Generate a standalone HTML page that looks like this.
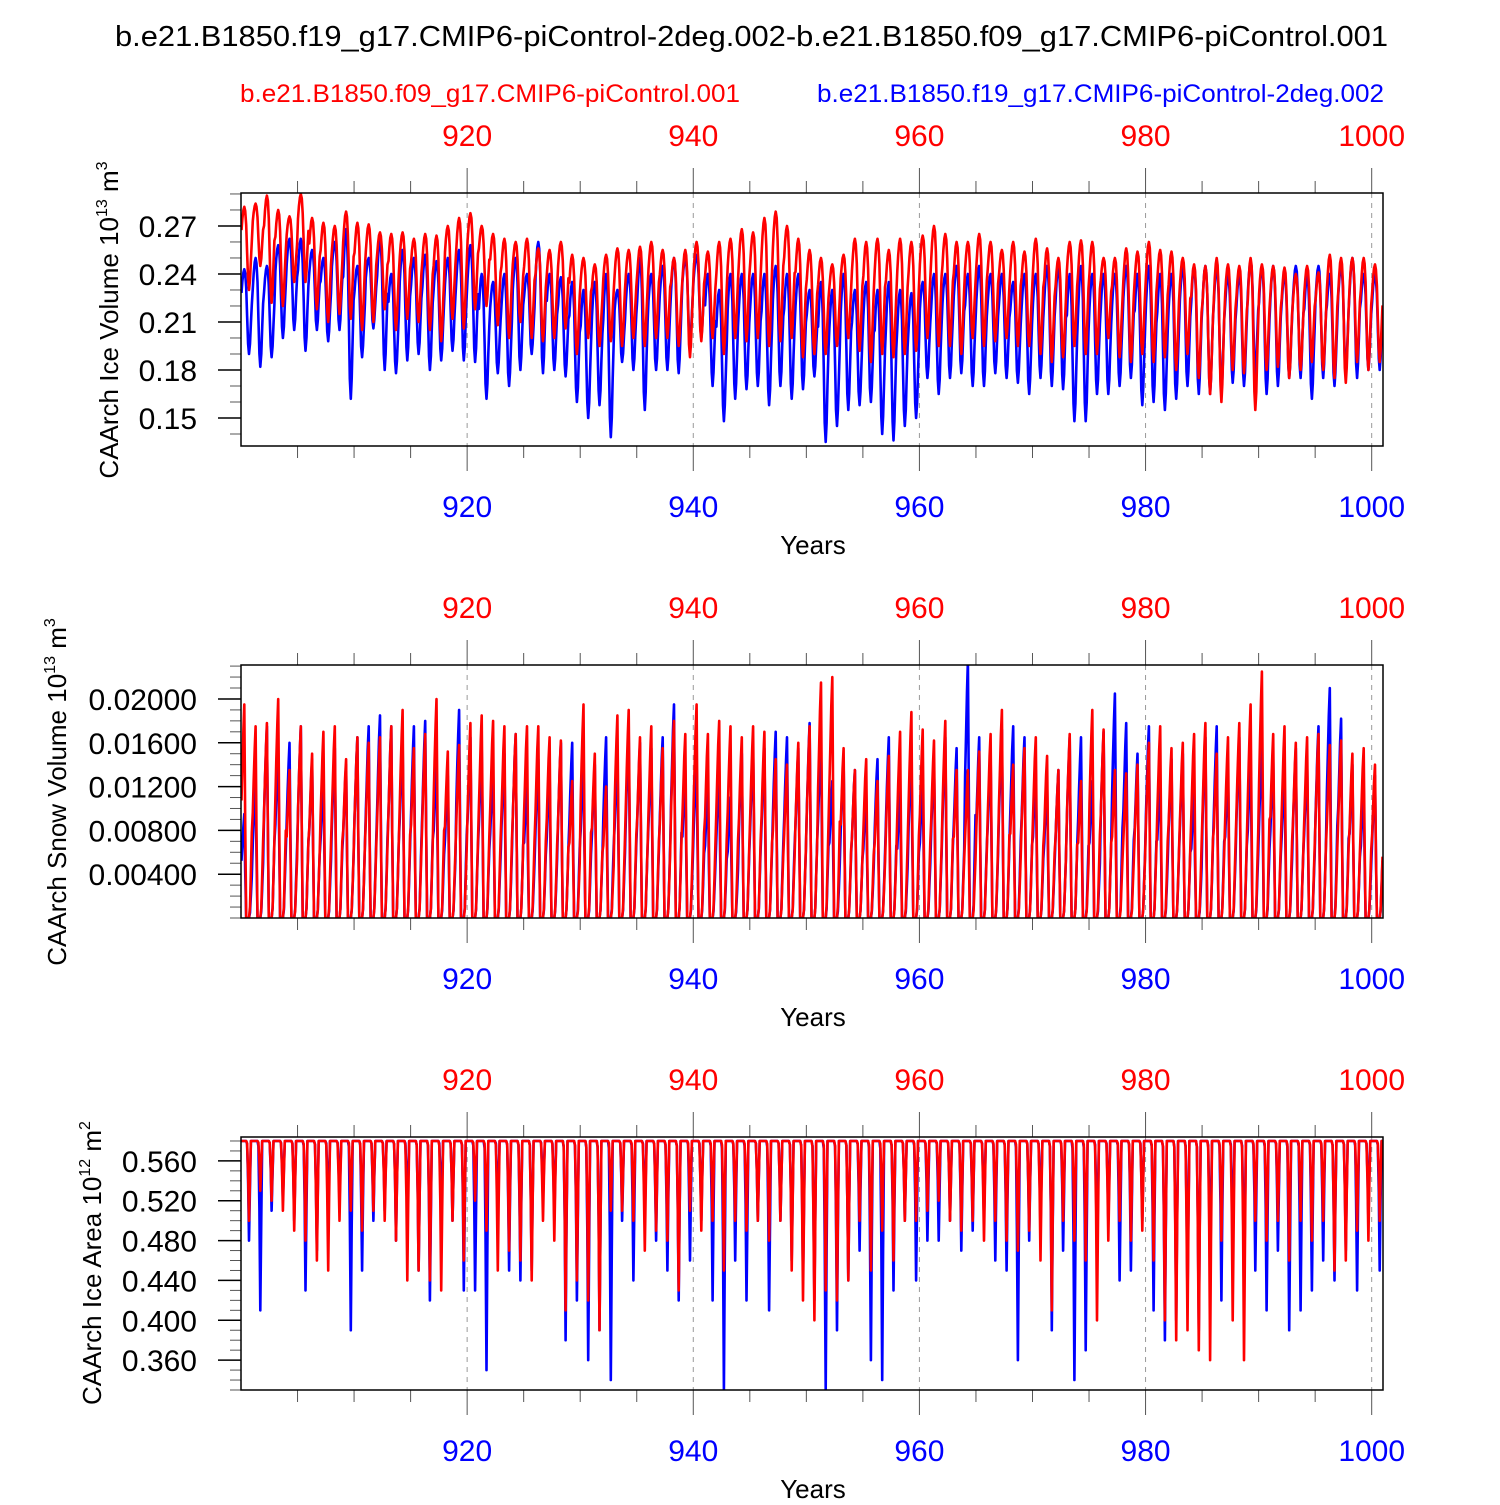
<!DOCTYPE html>
<html><head><meta charset="utf-8">
<style>
html,body{margin:0;padding:0;background:#fff;}
svg text{font-family:"Liberation Sans",Arial,sans-serif;}
</style></head>
<body>
<svg id="chart" width="1500" height="1500" viewBox="0 0 1500 1500" xmlns="http://www.w3.org/2000/svg">
<text x="115" y="46" font-size="29" textLength="1273" lengthAdjust="spacingAndGlyphs" fill="#000">b.e21.B1850.f19_g17.CMIP6-piControl-2deg.002-b.e21.B1850.f09_g17.CMIP6-piControl.001</text>
<text x="240" y="102" font-size="25" textLength="500" lengthAdjust="spacingAndGlyphs" fill="#f00">b.e21.B1850.f09_g17.CMIP6-piControl.001</text>
<text x="817" y="102" font-size="25" textLength="567" lengthAdjust="spacingAndGlyphs" fill="#00f">b.e21.B1850.f19_g17.CMIP6-piControl-2deg.002</text>
</svg>
<script>
// ---- data: yearly values (years 900..1000) ----
const years = Array.from({length:101},(_,i)=>900+i);
const xTicks = [920,940,960,980,1000];

const volRedMax = [0.282,0.284,0.289,0.28,0.276,0.29,0.275,0.272,0.27,0.279,0.272,0.271,0.266,0.265,0.266,0.262,0.265,0.264,0.27,0.275,0.278,0.27,0.265,0.262,0.26,0.262,0.256,0.255,0.26,0.252,0.25,0.246,0.252,0.256,0.255,0.257,0.26,0.255,0.25,0.255,0.26,0.254,0.26,0.262,0.268,0.266,0.275,0.279,0.27,0.262,0.255,0.25,0.246,0.252,0.262,0.26,0.262,0.255,0.262,0.26,0.264,0.27,0.265,0.26,0.26,0.265,0.26,0.255,0.26,0.254,0.262,0.256,0.25,0.26,0.261,0.26,0.25,0.25,0.256,0.254,0.26,0.255,0.254,0.25,0.246,0.245,0.25,0.246,0.245,0.25,0.246,0.245,0.244,0.24,0.245,0.241,0.252,0.25,0.25,0.25,0.246];
const volRedMin = [0.23,0.245,0.222,0.22,0.235,0.235,0.218,0.21,0.215,0.212,0.205,0.21,0.218,0.205,0.212,0.21,0.205,0.198,0.212,0.206,0.218,0.22,0.208,0.2,0.21,0.2,0.198,0.2,0.206,0.19,0.2,0.195,0.198,0.195,0.2,0.195,0.2,0.2,0.195,0.188,0.198,0.2,0.19,0.2,0.198,0.2,0.195,0.198,0.2,0.188,0.19,0.19,0.195,0.2,0.192,0.185,0.19,0.188,0.19,0.192,0.2,0.195,0.195,0.19,0.2,0.195,0.198,0.2,0.195,0.195,0.19,0.185,0.188,0.195,0.19,0.19,0.2,0.188,0.185,0.19,0.185,0.188,0.18,0.19,0.175,0.165,0.16,0.18,0.178,0.155,0.18,0.182,0.175,0.18,0.185,0.18,0.175,0.172,0.185,0.18,0.185];
const volBlueMax = [0.243,0.25,0.245,0.258,0.262,0.262,0.255,0.25,0.26,0.268,0.245,0.25,0.262,0.24,0.255,0.25,0.252,0.248,0.25,0.255,0.258,0.24,0.235,0.24,0.25,0.24,0.26,0.24,0.238,0.235,0.23,0.235,0.24,0.23,0.24,0.25,0.24,0.245,0.25,0.25,0.252,0.24,0.23,0.24,0.24,0.24,0.24,0.245,0.24,0.24,0.23,0.235,0.23,0.24,0.23,0.235,0.23,0.235,0.23,0.228,0.235,0.24,0.24,0.245,0.24,0.245,0.24,0.24,0.235,0.24,0.24,0.245,0.245,0.24,0.245,0.24,0.24,0.24,0.245,0.24,0.245,0.24,0.24,0.245,0.245,0.245,0.245,0.24,0.24,0.248,0.245,0.245,0.24,0.245,0.24,0.245,0.24,0.245,0.25,0.24,0.24];
const volBlueMin = [0.19,0.182,0.188,0.2,0.205,0.192,0.205,0.198,0.205,0.162,0.188,0.206,0.18,0.178,0.186,0.19,0.18,0.186,0.192,0.186,0.185,0.162,0.178,0.17,0.18,0.19,0.178,0.18,0.176,0.16,0.15,0.158,0.138,0.185,0.18,0.155,0.18,0.18,0.178,0.196,0.2,0.17,0.148,0.162,0.168,0.17,0.158,0.17,0.162,0.168,0.176,0.135,0.145,0.155,0.158,0.16,0.14,0.136,0.145,0.15,0.175,0.165,0.175,0.178,0.17,0.17,0.178,0.175,0.172,0.165,0.175,0.17,0.168,0.148,0.148,0.165,0.165,0.17,0.175,0.158,0.16,0.155,0.162,0.17,0.165,0.165,0.165,0.172,0.17,0.175,0.165,0.17,0.175,0.175,0.162,0.175,0.17,0.178,0.175,0.18,0.18];

const snowRedMax = [0.0195,0.0175,0.0178,0.02,0.0135,0.0175,0.015,0.017,0.0175,0.0145,0.0165,0.016,0.0165,0.0175,0.019,0.0155,0.0168,0.02,0.0152,0.0158,0.0178,0.0185,0.018,0.0175,0.0168,0.0175,0.0175,0.0165,0.0162,0.0125,0.0195,0.015,0.012,0.0185,0.019,0.0165,0.0175,0.0155,0.018,0.0168,0.0195,0.0168,0.018,0.0175,0.0165,0.0175,0.017,0.0145,0.014,0.016,0.0175,0.0215,0.022,0.0155,0.0135,0.0145,0.0125,0.0148,0.017,0.0188,0.0172,0.0162,0.018,0.0135,0.0135,0.0152,0.0168,0.019,0.014,0.0155,0.0165,0.0148,0.0135,0.0168,0.0125,0.019,0.0172,0.0135,0.0132,0.014,0.016,0.0175,0.0155,0.016,0.0168,0.0178,0.015,0.0165,0.0178,0.0195,0.0225,0.0168,0.0175,0.016,0.0165,0.0168,0.0158,0.0162,0.015,0.0155,0.014];
const snowBlueMax = [0.0095,0.0125,0.0175,0.0155,0.016,0.0175,0.0145,0.013,0.0155,0.014,0.0165,0.0175,0.0185,0.0175,0.0165,0.0175,0.018,0.0145,0.013,0.019,0.0165,0.0155,0.014,0.015,0.0168,0.0125,0.0145,0.0135,0.016,0.016,0.0145,0.014,0.0165,0.015,0.0168,0.016,0.0155,0.0165,0.0195,0.0135,0.0148,0.012,0.0135,0.011,0.015,0.0155,0.0155,0.017,0.0165,0.0155,0.0178,0.0165,0.0125,0.0145,0.0135,0.0115,0.0145,0.0165,0.0115,0.015,0.0125,0.0145,0.0165,0.0155,0.0235,0.0165,0.015,0.0172,0.0175,0.0165,0.0135,0.0125,0.0135,0.0165,0.0165,0.0125,0.017,0.0205,0.0178,0.015,0.0175,0.013,0.0145,0.015,0.0115,0.0165,0.0175,0.0135,0.0165,0.0145,0.0158,0.0145,0.0135,0.0155,0.0145,0.0175,0.021,0.0182,0.014,0.012,0.013];

const areaRedMin = [0.5,0.53,0.52,0.51,0.49,0.48,0.46,0.45,0.5,0.51,0.49,0.51,0.5,0.48,0.44,0.45,0.44,0.43,0.5,0.46,0.52,0.49,0.45,0.47,0.46,0.44,0.5,0.48,0.41,0.44,0.42,0.39,0.51,0.51,0.5,0.47,0.49,0.48,0.43,0.51,0.49,0.5,0.45,0.5,0.49,0.5,0.48,0.5,0.45,0.42,0.4,0.43,0.42,0.44,0.5,0.45,0.49,0.46,0.5,0.5,0.51,0.52,0.5,0.49,0.5,0.48,0.5,0.48,0.47,0.49,0.46,0.41,0.5,0.48,0.46,0.4,0.48,0.5,0.48,0.49,0.46,0.4,0.38,0.39,0.37,0.36,0.48,0.4,0.36,0.5,0.48,0.5,0.46,0.5,0.48,0.5,0.45,0.46,0.49,0.48,0.5];
const areaBlueMin = [0.48,0.41,0.51,0.52,0.5,0.43,0.47,0.5,0.52,0.39,0.45,0.5,0.51,0.48,0.5,0.45,0.42,0.5,0.5,0.43,0.43,0.35,0.5,0.45,0.44,0.45,0.52,0.5,0.38,0.42,0.36,0.39,0.34,0.5,0.44,0.5,0.48,0.45,0.42,0.46,0.5,0.42,0.33,0.46,0.42,0.5,0.41,0.5,0.46,0.44,0.42,0.33,0.39,0.44,0.47,0.36,0.34,0.43,0.5,0.44,0.48,0.48,0.5,0.47,0.49,0.5,0.46,0.45,0.36,0.48,0.49,0.39,0.47,0.34,0.37,0.46,0.5,0.44,0.45,0.5,0.41,0.38,0.4,0.42,0.39,0.43,0.42,0.47,0.42,0.45,0.41,0.47,0.39,0.41,0.43,0.46,0.44,0.47,0.43,0.5,0.45];

// seasonal profile shapes (fraction of annual range, months Jan..Dec)
const volShape = [0.72,0.86,0.96,1,0.95,0.78,0.45,0.12,0,0.12,0.36,0.58];
const snowShape = [0.55,0.72,0.88,1,0.45,0,0,0,0,0.05,0.22,0.4];
const areaShape = [1,1,1,1,1,1,0.97,0.6,0,0.55,1,1];

const volTicks = [0.15,0.18,0.21,0.24,0.27];
const snowTicks = [0.004,0.008,0.012,0.016,0.020];
const areaTicks = [0.36,0.40,0.44,0.48,0.52,0.56];

const NS='http://www.w3.org/2000/svg';
const svg=document.getElementById('chart');
const X0=241,X1=1383,XMIN=900,XMAX=1001;
function xs(v){return X0+(v-XMIN)/(XMAX-XMIN)*(X1-X0);}
function mk(tag,attrs,parent){const e=document.createElementNS(NS,tag);for(const k in attrs)e.setAttribute(k,attrs[k]);(parent||svg).appendChild(e);return e;}

const panels=[
 {top:193,bot:446,ymin:0.1325,ymax:0.2906,ticks:volTicks,minor:0.01,dec:2,shape:volShape,
  series:[['blue',volBlueMin,volBlueMax],['red',volRedMin,volRedMax]],title:'CAArch Ice Volume 10',sup:'13',unit:' m',usup:'3',tx:118,cy:320,name:'ice-volume'},
 {top:665,bot:918,ymin:0.0,ymax:0.0231,ticks:snowTicks,minor:0.001,dec:5,shape:snowShape,
  series:[['blue',null,snowBlueMax],['red',null,snowRedMax]],title:'CAArch Snow Volume 10',sup:'13',unit:' m',usup:'3',tx:66,cy:792,name:'snow-volume'},
 {top:1137,bot:1390,ymin:0.33,ymax:0.584,ticks:areaTicks,minor:0.01,dec:3,shape:areaShape,
  series:[['blue','min',areaBlueMin],['red','min',areaRedMin]],title:'CAArch Ice Area 10',sup:'12',unit:' m',usup:'2',tx:101,cy:1263,name:'ice-area'}
];

panels.forEach((p,pi)=>{
 const g=mk('g',{});
 
 
 const ys=v=>p.bot-(v-p.ymin)/(p.ymax-p.ymin)*(p.bot-p.top);
 for(let yr=905;yr<=1000;yr+=5){
  const x=xs(yr),major=(yr%20===0);
  const tt=mk('line',{x1:x,x2:x,y1:p.top-(major?25:12),y2:p.top,stroke:'#555','stroke-width':1},g);
  
  
  const tb=mk('line',{x1:x,x2:x,y1:p.bot,y2:p.bot+(major?25:12),stroke:'#555','stroke-width':1},g);
  
  
  if(major){const gl=mk('line',{x1:x,x2:x,y1:p.top,y2:p.bot,stroke:'#999','stroke-width':1,'stroke-dasharray':'5,5'},g);
   
   }
 }
 for(let v=Math.ceil(p.ymin/p.minor)*p.minor;v<=p.ymax+1e-9;v+=p.minor){
  const y=ys(v);
  const t=mk('line',{x1:X0-11,x2:X0,y1:y,y2:y,stroke:'#555','stroke-width':1},g);
  
  
 }
 p.ticks.forEach(v=>{
  const y=ys(v);
  const t=mk('line',{x1:X0-23,x2:X0,y1:y,y2:y,stroke:'#000','stroke-width':1.5},g);
  
  
  const l=mk('text',{x:X0-44,y:y+11,'text-anchor':'end','font-size':30,fill:'#000'},g);
  l.textContent=v.toFixed(p.dec);
  
  
 });
 const clipId='clip'+pi;
 const cp=mk('clipPath',{id:clipId},g);
 mk('rect',{x:X0,y:p.top,width:X1-X0,height:p.bot-p.top},cp);
 p.series.forEach(([col,mn,mx])=>{
  let pts=[];
  years.forEach((yr,i)=>{
   p.shape.forEach((s,m)=>{
    let v;
    if(mn===null) v=mx[i]*s;
    else if(mn==='min') v=p.ymax-0.004+(mx[i]-(p.ymax-0.004))*(1-s);
    else v=mn[i]+(mx[i]-mn[i])*s;
    pts.push(xs(yr+(m+0.5)/12).toFixed(1)+','+ys(v).toFixed(1));
   });
  });
  const pl=mk('polyline',{points:pts.join(' '),fill:'none',stroke:col==='red'?'#f00':'#00f','stroke-width':2.6,'stroke-linejoin':'round','clip-path':'url(#'+clipId+')'},g);
  
  
 });
 const fr=mk('rect',{x:X0,y:p.top,width:X1-X0,height:p.bot-p.top,fill:'none',stroke:'#000','stroke-width':1.5},g);
 
 
 xTicks.forEach(v=>{
  const a=mk('text',{x:xs(v),y:p.top-47,'text-anchor':'middle','font-size':30,fill:'#f00'},g);
  a.textContent=v;
  
  
  const b=mk('text',{x:xs(v),y:p.bot+71,'text-anchor':'middle','font-size':30,fill:'#00f'},g);
  b.textContent=v;
  
  
 });
 const xt=mk('text',{x:813,y:p.bot+108,'text-anchor':'middle','font-size':26,fill:'#000'},g);
 xt.textContent='Years';
 
 
 const yt=mk('text',{x:0,y:0,'text-anchor':'middle','font-size':26,fill:'#000',transform:'translate('+p.tx+','+p.cy+') rotate(-90)'},g);
 
 
 const t1=mk('tspan',{},yt);t1.textContent=p.title;
 const t2=mk('tspan',{dy:-11,'font-size':16},yt);t2.textContent=p.sup;
 const t3=mk('tspan',{dy:11},yt);t3.textContent=p.unit;
 const t4=mk('tspan',{dy:-11,'font-size':16},yt);t4.textContent=p.usup;
});
</script>
</body></html>
